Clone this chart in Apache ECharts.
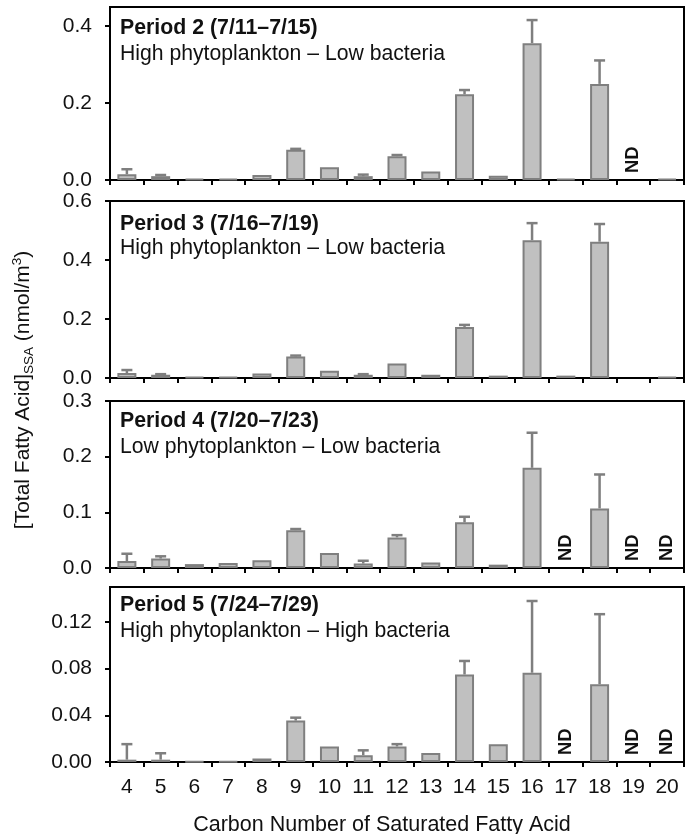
<!DOCTYPE html>
<html>
<head>
<meta charset="utf-8">
<script src="https://cdn.jsdelivr.net/npm/echarts@6/dist/echarts.min.js"></script>
<style>
html,body{margin:0;padding:0;background:#fff;}
#chart{width:686px;height:834px;}
</style>
</head>
<body>
<div id="chart"></div>
<script>
// ---------- data ----------
const categories = ['4','5','6','7','8','9','10','11','12','13','14','15','16','17','18','19','20'];

const periodTitles = ['Period 2 (7/11\u20137/15)', 'Period 3 (7/16\u20137/19)', 'Period 4 (7/20\u20137/23)', 'Period 5 (7/24\u20137/29)'];
const periodSubtitles = ['High phytoplankton \u2013 Low bacteria', 'High phytoplankton \u2013 Low bacteria', 'Low phytoplankton \u2013 Low bacteria', 'High phytoplankton \u2013 High bacteria'];

const p2Values = [0.015, 0.010, 0.003, 0.003, 0.013, 0.079, 0.033, 0.010, 0.062, 0.022, 0.223, 0.011, 0.356, 0.003, 0.250, null, 0.003];
const p2Errors = [0.013, 0.003, 0, 0, 0, 0.002, 0, 0.004, 0.003, 0, 0.011, 0, 0.060, 0, 0.061, null, 0];
const p2ND = ['19'];

const p3Values = [0.017, 0.011, 0.003, 0.003, 0.015, 0.073, 0.025, 0.011, 0.049, 0.011, 0.173, 0.008, 0.467, 0.008, 0.462, null, 0.003];
const p3Errors = [0.010, 0.002, 0, 0, 0, 0.003, 0, 0.002, 0, 0, 0.007, 0, 0.058, 0, 0.060, null, 0];
const p3ND = [];

const p4Values = [0.0126, 0.017, 0.007, 0.009, 0.014, 0.068, 0.027, 0.008, 0.055, 0.010, 0.082, 0.006, 0.180, null, 0.107, null, null];
const p4Errors = [0.013, 0.004, 0, 0, 0, 0.002, 0, 0.005, 0.004, 0, 0.010, 0, 0.063, null, 0.061, null, null];
const p4ND = ['17', '19', '20'];

const p5Values = [0.002, 0.002, 0.0005, 0.0005, 0.003, 0.0355, 0.0133, 0.0058, 0.0133, 0.0078, 0.075, 0.0153, 0.0765, null, 0.0667, null, null];
const p5Errors = [0.0133, 0.0055, 0, 0, 0, 0.0025, 0, 0.0042, 0.002, 0, 0.0116, 0, 0.0615, null, 0.060, null, null];
const p5ND = ['17', '19', '20'];

const yMax = [0.45, 0.6, 0.3, 0.15];
const yInterval = [0.2, 0.2, 0.1, 0.04];
const yTicks = [[0, 0.2, 0.4], [0, 0.2, 0.4, 0.6], [0, 0.1, 0.2, 0.3], [0, 0.04, 0.08, 0.12]];
const yDecimals = [1, 1, 1, 2];

const xAxisTitle = 'Carbon Number of Saturated Fatty Acid';

// ---------- layout / style ----------
const FONT = 'Liberation Sans, Arial, Helvetica, sans-serif';
const TXT = '#111';
const BAR_FILL = '#c0c0c0';
const BAR_EDGE = '#7f7f7f';
const gridLeft = 110, gridRight = 2;
const gridTops = [7, 201, 401, 587];
const gridHeights = [173, 177, 167, 175];
const textOffsets = [[21, 47], [23, 47], [20, 46], [18, 44]];

const values = [p2Values, p3Values, p4Values, p5Values];
const errors = [p2Errors, p3Errors, p4Errors, p5Errors];
const nds = [p2ND, p3ND, p4ND, p5ND];

const chart = echarts.init(document.getElementById('chart'), null, {renderer: 'canvas'});

const grids = [], xAxes = [], yAxes = [], series = [], graphics = [];

for (let i = 0; i < 4; i++) {
  grids.push({
    left: gridLeft, right: gridRight, top: gridTops[i], height: gridHeights[i],
    show: true, borderColor: '#000', borderWidth: 2, backgroundColor: 'transparent'
  });
  const last = i === 3;
  xAxes.push({
    type: 'category', gridIndex: i, data: categories,
    axisLine: {show: true, lineStyle: {color: '#000', width: 2}},
    axisTick: {show: true, length: 5, inside: false, lineStyle: {color: '#000', width: 2}},
    axisLabel: {show: last, color: TXT, fontSize: 21, fontFamily: FONT, margin: 15, interval: 0},
    splitLine: {show: false}
  });
  const dec = yDecimals[i];
  yAxes.push({
    type: 'value', gridIndex: i, min: 0, max: yMax[i], interval: yInterval[i],
    axisLine: {show: true, lineStyle: {color: '#000', width: 2}},
    axisTick: {show: true, length: 5, inside: false, lineStyle: {color: '#000', width: 2}, customValues: yTicks[i]},
    axisLabel: {color: TXT, fontSize: 21, fontFamily: FONT, margin: 18, customValues: yTicks[i],
      formatter: v => Number(v).toFixed(dec)},
    splitLine: {show: false}
  });

  series.push({
    type: 'bar', xAxisIndex: i, yAxisIndex: i,
    data: values[i], barWidth: 19,
    itemStyle: {color: BAR_FILL, borderColor: BAR_EDGE, borderWidth: 2},
    z: 2, silent: true, animation: false
  });

  const errData = [];
  values[i].forEach((v, k) => {
    const e = errors[i][k];
    if (v != null && e) errData.push([k, v, v + e]);
  });
  series.push({
    type: 'custom', xAxisIndex: i, yAxisIndex: i,
    data: errData, encode: {x: 0, y: [1, 2]}, z: 3, silent: true, animation: false,
    renderItem: function (params, api) {
      const x = api.value(0);
      const p0 = api.coord([x, api.value(1)]);
      const p1 = api.coord([x, api.value(2)]);
      const half = 5.5;
      const st = {stroke: BAR_EDGE, lineWidth: 2.5};
      return {type: 'group', children: [
        {type: 'line', shape: {x1: p0[0], y1: p0[1], x2: p1[0], y2: p1[1]}, style: st},
        {type: 'line', shape: {x1: p1[0] - half, y1: p1[1], x2: p1[0] + half, y2: p1[1]}, style: st}
      ]};
    }
  });

  series.push({
    type: 'custom', xAxisIndex: i, yAxisIndex: i,
    data: nds[i].map(c => [categories.indexOf(c), 0]), encode: {x: 0, y: 1}, z: 4, silent: true, animation: false,
    renderItem: function (params, api) {
      const p = api.coord([api.value(0), 0]);
      return {
        type: 'text', x: p[0], y: p[1] - 7, rotation: Math.PI / 2,
        style: {text: 'ND', x: 0, y: 0, align: 'left', verticalAlign: 'middle',
          fontSize: 18.5, fontWeight: 'bold', fontFamily: FONT, fill: TXT}
      };
    }
  });

  graphics.push({
    type: 'text', x: gridLeft + 10, y: gridTops[i] + textOffsets[i][0],
    style: {text: periodTitles[i], fontSize: 21.3, fontWeight: 'bold', fontFamily: FONT, fill: TXT,
      align: 'left', verticalAlign: 'middle'}
  });
  graphics.push({
    type: 'text', x: gridLeft + 10, y: gridTops[i] + textOffsets[i][1],
    style: {text: periodSubtitles[i], fontSize: 21.2, fontFamily: FONT, fill: TXT,
      align: 'left', verticalAlign: 'middle'}
  });
}

graphics.push({
  type: 'text', x: 382, y: 825,
  style: {text: xAxisTitle, fontSize: 21.5, fontFamily: FONT, fill: TXT, align: 'center', verticalAlign: 'middle'}
});

graphics.push({
  type: 'text', x: 23, y: 390, rotation: Math.PI / 2,
  style: {
    text: '{a|[Total Fatty Acid]}{s|SSA}{a| (nmol/m}{p|3}{a|)}',
    align: 'center', verticalAlign: 'middle', fill: TXT,
    rich: {
      a: {fontSize: 21, fontFamily: FONT, lineHeight: 26, fill: TXT},
      s: {fontSize: 13.5, fontFamily: FONT, lineHeight: 14, verticalAlign: 'bottom', fill: TXT},
      p: {fontSize: 13.5, fontFamily: FONT, lineHeight: 14, verticalAlign: 'top', fill: TXT}
    }
  }
});

chart.setOption({
  animation: false,
  grid: grids, xAxis: xAxes, yAxis: yAxes, series: series, graphic: graphics
});
</script>
</body>
</html>
